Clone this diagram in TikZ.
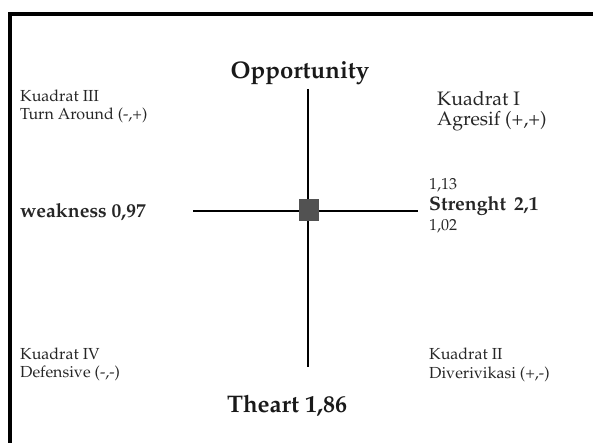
\documentclass[tikz,border=0pt]{standalone}
\usepackage[T1]{fontenc}
\usepackage{mathpazo}
\begin{document}
\begin{tikzpicture}[x=1pt, y=-1pt,
    lbl/.style={anchor=west, inner sep=0pt, text=black!85, font=\fontsize{16}{19}\selectfont},
    bold lbl/.style={lbl, font=\fontsize{19.5}{22}\selectfont\bfseries},
    big/.style={anchor=west, inner sep=0pt, text=black!85, font=\fontsize{19.5}{23}\selectfont},
    ttl/.style={inner sep=0pt, text=black!90, font=\fontsize{24}{27}\selectfont\bfseries},
    axis/.style={line width=2.7pt}]
    \useasboundingbox (0,0) rectangle (593,443);

    % bingkai
    \draw[line width=4pt] (10,470) -- (10,14) -- (620,14);

    % garis sumbu
    \coordinate (top) at (308,89);
    \coordinate (bot) at (308,367);
    \coordinate (lft) at (193,211);
    \coordinate (rgt) at (418,211);
    \draw[axis] (top) -- (bot);
    \draw[axis] (lft) -- (rgt);
    \node[rectangle, fill=black!68, minimum width=20pt, minimum height=22pt, inner sep=0pt] (sq) at (309,210) {};

    % judul
    \node[ttl] (opp) at (300,73) {Opportunity};
    \node[ttl] (thr) at (287,406) {Theart 1,86};

    % kuadran
    \node[lbl] (k3) at (20,96) {Kuadrat III};
    \node[lbl] (k3b) at (20,115) {Turn Around (-,+)};
    \node[big] (k1) at (437,98) {Kuadrat I};
    \node[big] (k1b) at (437,121) {Agresif (+,+)};
    \node[lbl] (k4) at (20,354) {Kuadrat IV};
    \node[lbl] (k4b) at (20,373) {Defensive (-,-)};
    \node[lbl] (k2) at (429,354) {Kuadrat II};
    \node[lbl] (k2b) at (429,374) {Diverivikasi (+,-)};

    % nilai
    \node[bold lbl] (wk) at (20,212) {weakness 0,97};
    \node[lbl] (s1) at (429,185) {1,13};
    \node[bold lbl] (st) at (429,206) {Strenght\, 2,1};
    \node[lbl] (s2) at (429,226) {1,02};

\end{tikzpicture}
\end{document}
